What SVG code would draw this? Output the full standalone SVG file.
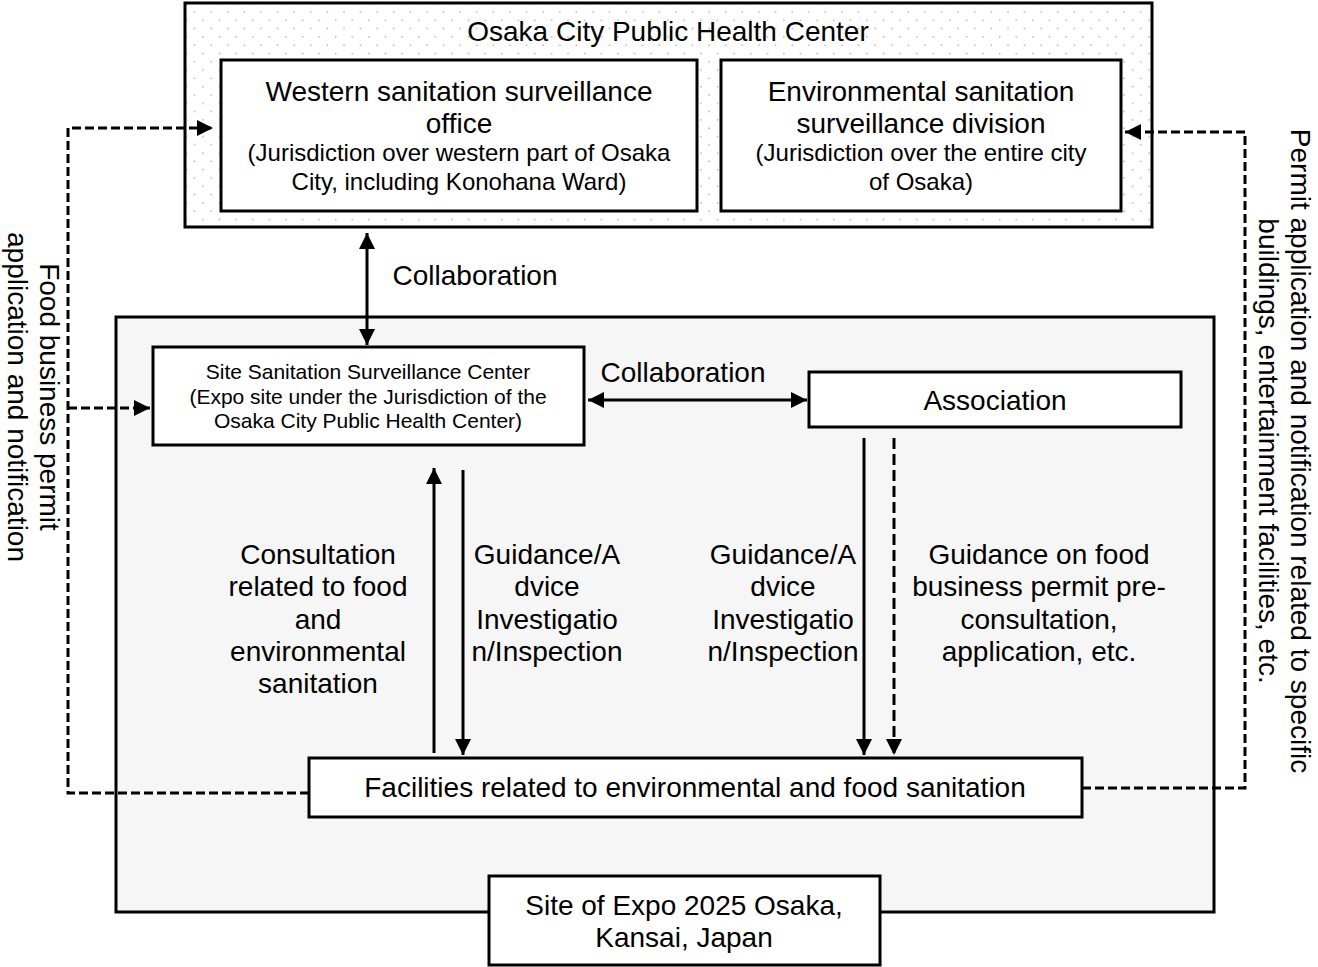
<svg xmlns="http://www.w3.org/2000/svg" width="1318" height="967" viewBox="0 0 1318 967">
<style>
text{font-family:"Liberation Sans",Arial,sans-serif;fill:#000;text-anchor:middle}
.t28{font-size:28px}
.t24{font-size:24px}
.t21{font-size:21px}
.box{fill:#fff;stroke:#000;stroke-width:3}
.ln{fill:none;stroke:#000;stroke-width:3}
.dash{fill:none;stroke:#000;stroke-width:3;stroke-dasharray:9 4}
.dashv{fill:none;stroke:#000;stroke-width:3;stroke-dasharray:11 5}
</style>
<defs>
<pattern id="dots" patternUnits="userSpaceOnUse" width="16.6" height="16.6">
<rect width="16.6" height="16.6" fill="#fff"/>
<rect x="3" y="3" width="1.4" height="1.4" fill="#aaa"/>
<rect x="11.3" y="11.3" width="1.4" height="1.4" fill="#aaa"/>
</pattern>
<marker id="ah" markerUnits="userSpaceOnUse" markerWidth="16" markerHeight="16" refX="16" refY="8" orient="auto-start-reverse">
<path d="M0,0 L16,8 L0,16 z" fill="#000"/>
</marker>
</defs>

<g id="health-center">
<rect x="185" y="3" width="967" height="224" fill="url(#dots)" stroke="#000" stroke-width="3"/>
<text class="t28" x="668" y="41">Osaka City Public Health Center</text>
</g>

<g id="western-office">
<rect class="box" x="221" y="60" width="476" height="151"/>
<text class="t28" x="459" y="101">Western sanitation surveillance</text>
<text class="t28" x="459" y="133">office</text>
<text class="t24" x="459" y="161">(Jurisdiction over western part of Osaka</text>
<text class="t24" x="459" y="190">City, including Konohana Ward)</text>
</g>

<g id="env-division">
<rect class="box" x="721" y="60" width="400" height="151"/>
<text class="t28" x="921" y="101">Environmental sanitation</text>
<text class="t28" x="921" y="133">surveillance division</text>
<text class="t24" x="921" y="161">(Jurisdiction over the entire city</text>
<text class="t24" x="921" y="190">of Osaka)</text>
</g>

<g id="expo-site">
<rect x="116" y="317" width="1098" height="595" fill="#f6f6f6" stroke="#000" stroke-width="3"/>
</g>

<g id="site-center">
<rect class="box" x="153" y="347" width="431" height="98"/>
<text class="t21" x="368" y="379">Site Sanitation Surveillance Center</text>
<text class="t21" x="368" y="404">(Expo site under the Jurisdiction of the</text>
<text class="t21" x="368" y="428">Osaka City Public Health Center)</text>
</g>

<g id="association">
<rect class="box" x="809" y="372" width="372" height="55"/>
<text class="t28" x="995" y="410">Association</text>
</g>

<g id="facilities">
<rect class="box" x="309" y="758" width="773" height="59"/>
<text class="t28" x="695" y="797">Facilities related to environmental and food sanitation</text>
</g>

<g id="expo-label">
<rect class="box" x="489" y="876" width="391" height="89"/>
<text class="t28" x="684" y="915">Site of Expo 2025 Osaka,</text>
<text class="t28" x="684" y="947">Kansai, Japan</text>
</g>

<g id="connectors">
<line class="ln" x1="367" y1="233" x2="367" y2="345" marker-start="url(#ah)" marker-end="url(#ah)"/>
<line class="ln" x1="588" y1="400" x2="807" y2="400" marker-start="url(#ah)" marker-end="url(#ah)"/>
<line class="ln" x1="434" y1="753" x2="434" y2="468" marker-end="url(#ah)"/>
<line class="ln" x1="463" y1="470" x2="463" y2="755" marker-end="url(#ah)"/>
<line class="ln" x1="864" y1="438" x2="864" y2="755" marker-end="url(#ah)"/>
<line class="dashv" x1="894" y1="438" x2="894" y2="755" marker-end="url(#ah)"/>
<path class="dash" d="M309,793 H68 V128 H213" marker-end="url(#ah)"/>
<path class="dash" d="M68,408 H150" marker-end="url(#ah)"/>
<path class="dash" d="M1082,788 H1245 V132 H1125" marker-end="url(#ah)"/>
</g>

<g id="labels">
<text class="t28" x="475" y="285">Collaboration</text>
<text class="t28" x="683" y="382">Collaboration</text>
<text class="t28" x="318" y="564">Consultation</text>
<text class="t28" x="318" y="596">related to food</text>
<text class="t28" x="318" y="629">and</text>
<text class="t28" x="318" y="661">environmental</text>
<text class="t28" x="318" y="693">sanitation</text>
<text class="t28" x="547" y="564">Guidance/A</text>
<text class="t28" x="547" y="596">dvice</text>
<text class="t28" x="547" y="629">Investigatio</text>
<text class="t28" x="547" y="661">n/Inspection</text>
<text class="t28" x="783" y="564">Guidance/A</text>
<text class="t28" x="783" y="596">dvice</text>
<text class="t28" x="783" y="629">Investigatio</text>
<text class="t28" x="783" y="661">n/Inspection</text>
<text class="t28" x="1039" y="564">Guidance on food</text>
<text class="t28" x="1039" y="596">business permit pre-</text>
<text class="t28" x="1039" y="629">consultation,</text>
<text class="t28" x="1039" y="661">application, etc.</text>
<g transform="translate(40,397) rotate(90)">
<text class="t28" x="0" y="0">Food business permit</text>
<text class="t28" x="0" y="32">application and notification</text>
</g>
<g transform="translate(1291,451) rotate(90)">
<text class="t28" x="0" y="0">Permit application and notification related to specific</text>
<text class="t28" x="0" y="32">buildings, entertainment facilities, etc.</text>
</g>
</g>
</svg>
